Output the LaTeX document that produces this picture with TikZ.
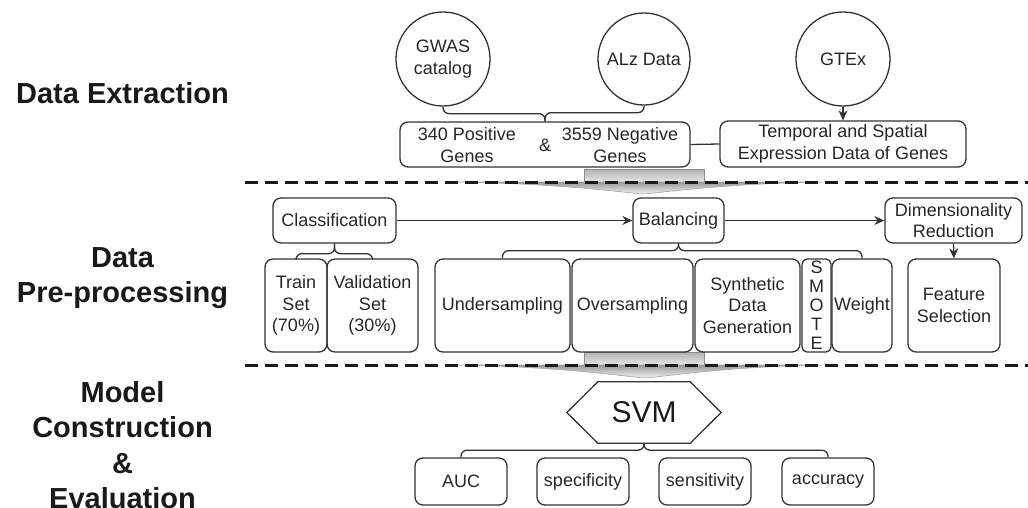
\documentclass[tikz,border=0pt]{standalone}
\usepackage{fontspec}
\setmainfont{Liberation Sans}
\usetikzlibrary{shapes.geometric,arrows.meta}

\begin{document}
\begin{tikzpicture}[
    x=1pt, y=-1pt,
    stagenode/.style={font=\fontsize{29}{35.5}\selectfont\bfseries, align=center, text=black!90},
    srcnode/.style={draw=black!80, line width=1.3pt, circle, inner sep=0pt, font=\fontsize{18}{21.6}\selectfont, align=center, text=black!85},
    procnode/.style={draw=black!80, line width=1.3pt, rounded corners=8pt, inner sep=1pt, font=\fontsize{18}{21.6}\selectfont, align=center, text=black!85},
    txtnode/.style={font=\fontsize{18}{21.6}\selectfont, align=center, text=black!85},
    linkline/.style={draw=black!80, line width=1.3pt, rounded corners=6pt},
    flowarrow/.style={draw=black!80, line width=1.3pt, -{Stealth[length=10pt,width=9pt]}},
    divider/.style={line width=3pt, dash pattern=on 13pt off 7pt, black!90},
    funnelbox/.style={top color=black!30, bottom color=black!10, draw=black!45, line width=0.8pt},
    funnel/.style={top color=black!40, bottom color=black!5, draw=black!35, line width=0.6pt}
]
\useasboundingbox (0,0) rectangle (1028,507);

% Stage labels
\node[stagenode, anchor=base] (stExtract) at (122.5,103) {Data Extraction};
\node[stagenode] (stPre) at (122.5,278) {Data\\Pre-processing};
\node[stagenode] (stModel) at (122.5,445) {Model\\Construction\\\&\\Evaluation};

% Transfer funnels under the dividers
\draw[funnelbox] (584,169) rectangle (704,182);
\draw[funnel] (458,182) .. controls (565,184) and (618,192) .. (643,194) .. controls (668,192) and (720,184) .. (822,182) -- cycle;
\draw[funnelbox] (584,352) rectangle (704,365);
\draw[funnel] (458,365) .. controls (565,367) and (620,376) .. (645,378) .. controls (670,376) and (722,367) .. (822,365) -- cycle;

% Dividers
\draw[divider] (245,182) -- (1028,182);
\draw[divider] (245,365) -- (1028,365);

% Data extraction
\node[srcnode, minimum size=94pt] (gwas) at (443,59) {GWAS\\catalog};
\node[srcnode, minimum size=92pt] (alz) at (644,59) {ALz Data};
\node[srcnode, minimum size=94pt] (gtex) at (843,59) {GTEx};
\node[procnode, minimum width=290pt, minimum height=45pt] (genes) at (545,144.5) {};
\node[txtnode] (posGenes) at (467,145) {340 Positive\\Genes};
\node[txtnode] (ampGenes) at (545,145) {\&};
\node[txtnode] (negGenes) at (620,145) {3559 Negative\\Genes};
\node[procnode, minimum width=246pt, minimum height=46pt] (expr) at (843,144) {Temporal and Spatial\\Expression Data of Genes};

\draw[linkline] (gwas.south) -- ++(0,7) -| (genes.north);
\draw[linkline] (alz.south) -- ++(0,7) -| (genes.north);
\draw[flowarrow] (gtex.south) -- (expr.north);
\draw[linkline] (genes.east) -- (expr.west);

% Data pre-processing
\node[procnode, minimum width=123pt, minimum height=45pt] (class) at (334.5,220.5) {Classification};
\node[procnode, minimum width=91pt, minimum height=45pt] (bal) at (678.5,220.5) {Balancing};
\node[procnode, minimum width=137pt, minimum height=45pt] (dimred) at (953.5,220.5) {Dimensionality\\Reduction};

\node[procnode, minimum width=62pt, minimum height=93pt] (train) at (296,305.5) {Train\\Set\\(70\%)};
\node[procnode, minimum width=91pt, minimum height=93pt] (valid) at (372.5,305.5) {Validation\\Set\\(30\%)};
\node[procnode, minimum width=135pt, minimum height=93pt] (under) at (502.5,305.5) {Undersampling};
\node[procnode, minimum width=121pt, minimum height=93pt] (over) at (632.5,305.5) {Oversampling};
\node[procnode, minimum width=105pt, minimum height=93pt] (synth) at (747.5,305.5) {Synthetic\\Data\\Generation};
\node[procnode, minimum width=29pt, minimum height=93pt, rounded corners=5pt, font=\fontsize{18}{19}\selectfont] (smote) at (816.5,305.5) {S\\M\\O\\T\\E};
\node[procnode, minimum width=60pt, minimum height=93pt] (weight) at (862,305.5) {Weight};
\node[procnode, minimum width=92pt, minimum height=93pt] (feat) at (954,305.5) {Feature\\Selection};

\draw[flowarrow] (class.east) -- (bal.west);
\draw[flowarrow] (bal.east) -- (dimred.west);
\draw[flowarrow] (dimred.south) -- (feat.north);
\draw[linkline] (class.south) -- ++(0,10) -| (train.north);
\draw[linkline] (class.south) -- ++(0,10) -| (valid.north);
\draw[linkline] (bal.south) -- ++(0,7) -| (under.north);
\draw[linkline] (bal.south) -- ++(0,7) -| (weight.north);

% Model construction & evaluation
\node[minimum width=154pt, minimum height=61pt, inner sep=0pt, font=\fontsize{30}{36}\selectfont, text=black!90] (svm) at (644,412.5) {SVM};
\draw[draw=black!80, line width=1.3pt] (svm.west) -- ([xshift=31pt]svm.north west) -- ([xshift=-31pt]svm.north east) -- (svm.east) -- ([xshift=-31pt]svm.south east) -- ([xshift=31pt]svm.south west) -- cycle;

\node[procnode, minimum width=92pt, minimum height=47pt] (auc) at (461,481.5) {AUC};
\node[procnode, minimum width=92pt, minimum height=47pt] (spec) at (583,481.5) {specificity};
\node[procnode, minimum width=92pt, minimum height=47pt] (sens) at (705,481.5) {sensitivity};
\node[procnode, minimum width=92pt, minimum height=47pt] (acc) at (828,481.5) {accuracy};

\draw[linkline] (svm.south) -- ++(0,7) -| (auc.north);
\draw[linkline] (svm.south) -- ++(0,7) -| (acc.north);

\end{tikzpicture}
\end{document}
